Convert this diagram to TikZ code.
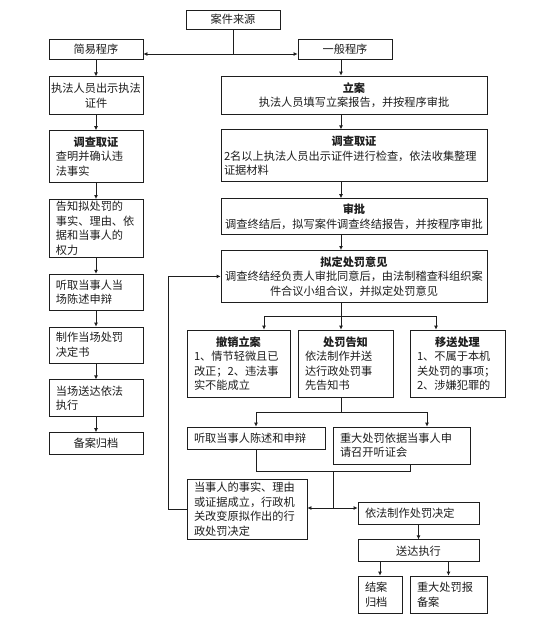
\documentclass[tikz,border=0pt]{standalone}
\usepackage{fontspec}
\setmainfont{Noto Sans CJK SC}
\usepackage{tikz}
\usetikzlibrary{arrows.meta,positioning}
\definecolor{inkgray}{HTML}{1E1E1E}
\newcommand{\ttl}[1]{\makebox[\linewidth]{\bfseries #1}}

\begin{document}
\begin{tikzpicture}[
  x=1pt, y=1pt,
  node distance=16pt,
  every node/.style={font=\fontsize{11.2}{14.5}\selectfont, text=inkgray},
  box/.style={draw=inkgray, line width=0.8pt, fill=white, inner xsep=3pt, inner ysep=1pt, align=center},
  lbox/.style={box, align=left, inner xsep=7pt},
  side/.style={box, text width=88pt},
  lside/.style={lbox, text width=80pt},
  arr/.style={-{Latex[length=4pt,width=4pt]}, line width=0.8pt, draw=inkgray},
  ln/.style={line width=0.8pt, draw=inkgray},
]
  \useasboundingbox (0,0) rectangle (536,-625);

  % source and the two procedures
  \node[box, text width=88pt, minimum height=19pt] (src) at (233,-19.5) {案件来源};
  \node[box, text width=88pt, minimum height=20pt] (jy) at (96,-49) {简易程序};
  \node[box, text width=88pt, minimum height=20pt] (yb) at (345,-49) {一般程序};

  % simple procedure
  \node[side, inner xsep=1pt, text width=92pt, minimum height=38pt, below=17pt of jy] (jy1) {执法人员出示执法\\证件};
  \node[lside, minimum height=52pt, below=15pt of jy1] (jy2) {\ttl{调查取证}\\查明并确认违\\法事实};
  \node[lside, minimum height=58pt, below=of jy2] (jy3) {告知拟处罚的\\事实、理由、依\\据和当事人的\\权力};
  \node[lside, minimum height=36pt, below=of jy3] (jy4) {听取当事人当\\场陈述申辩};
  \node[lside, minimum height=36pt, below=of jy4] (jy5) {制作当场处罚\\决定书};
  \node[lside, minimum height=37pt, below=of jy5] (jy6) {当场送达依法\\执行};
  \node[side, minimum height=22pt, below=15pt of jy6] (jy7) {备案归档};

  % general procedure
  \node[box, text width=260pt, minimum height=38pt] (la) at (354,-95) {\ttl{立案}\\执法人员填写立案报告，并按程序审批};
  \node[lbox, inner xsep=3pt, text width=260pt, minimum height=52pt, below=15pt of la] (dc) {\ttl{调查取证}\\2名以上执法人员出示证件进行检查，依法收集整理\\证据材料};
  \node[box, text width=260pt, minimum height=36pt, below=of dc] (sp) {\ttl{审批}\\调查终结后，拟写案件调查终结报告，并按程序审批};
  \node[box, inner xsep=1pt, text width=264pt, minimum height=52pt, below=15pt of sp] (nd) {\ttl{拟定处罚意见}\\调查终结经负责人审批同意后，由法制稽查科组织案\\件合议小组合议，并拟定处罚意见};

  \node[lbox, text width=89pt, minimum height=67pt] (cx) at (238.5,-363.5) {\ttl{撤销立案}\\1、情节轻微且已\\改正；2、违法事\\实不能成立};
  \node[lbox, text width=81pt, minimum height=67pt] (gz) at (345.5,-363.5) {\ttl{处罚告知}\\依法制作并送\\达行政处罚事\\先告知书};
  \node[lbox, text width=81pt, minimum height=67pt] (ys) at (457.5,-363.5) {\ttl{移送处理}\\1、不属于本机\\关处罚的事项；\\2、涉嫌犯罪的};

  \node[lbox, text width=124pt, minimum height=22pt] (tq) at (256,-438) {听取当事人陈述和申辩};
  \node[lbox, text width=123pt, minimum height=37pt] (zd) at (401.5,-445.5) {重大处罚依据当事人申\\请召开听证会};
  \node[lbox, text width=106pt, minimum height=60pt] (ds) at (247,-509) {当事人的事实、理由\\或证据成立，行政机\\关改变原拟作出的行\\政处罚决定};
  \node[lbox, text width=107pt, minimum height=22pt] (yf) at (418.5,-513) {依法制作处罚决定};
  \node[box, text width=115pt, minimum height=22pt, below=15pt of yf] (sd) {送达执行};
  \node[lbox, text width=30pt, minimum height=37pt] (ja) at (380,-594.5) {结案\\归档};
  \node[lbox, text width=63pt, minimum height=37pt] (bb) at (448.5,-594.5) {重大处罚报\\备案};

  % connectors
  \coordinate (split) at (233,-54);
  \coordinate (axis) at (341,0);
  \draw[ln] (src) -- (split);
  \draw[arr] (split) -- (split -| jy.east);
  \draw[arr] (split) -- (split -| yb.west);

  \draw[arr] (jy) -- (jy1);
  \draw[arr] (jy1) -- (jy2);
  \draw[arr] (jy2) -- (jy3);
  \draw[arr] (jy3) -- (jy4);
  \draw[arr] (jy4) -- (jy5);
  \draw[arr] (jy5) -- (jy6);
  \draw[arr] (jy6) -- (jy7);

  \draw[arr] (yb.south -| axis) -- (la.north -| axis);
  \draw[arr] (la.south -| axis) -- (dc.north -| axis);
  \draw[arr] (dc.south -| axis) -- (sp.north -| axis);
  \draw[arr] (sp.south -| axis) -- (nd.north -| axis);

  \coordinate (b1) at (341,-316);
  \coordinate (b1l) at (264,-316);
  \coordinate (b1r) at (436,-316);
  \draw[ln] (nd.south -| axis) -- (b1);
  \draw[ln] (b1l) -- (b1r);
  \draw[arr] (b1l) -- (b1l |- cx.north);
  \draw[arr] (b1) -- (b1 |- gz.north);
  \draw[arr] (b1r) -- (b1r |- ys.north);

  \coordinate (b2) at (341,-412);
  \coordinate (b2l) at (256,-412);
  \coordinate (b2r) at (427,-412);
  \draw[ln] (gz.south -| axis) -- (b2);
  \draw[ln] (b2l) -- (b2r);
  \draw[arr] (b2l) -- (tq);
  \draw[arr] (b2r) -- (b2r |- zd.north);

  \coordinate (m1l) at (256,-471);
  \coordinate (m1r) at (410,-471);
  \coordinate (m1) at (333,-471);
  \coordinate (m2) at (333,-508);
  \draw[ln] (tq) -- (m1l) -- (m1r) -- (m1r |- zd.south);
  \draw[ln] (m1) -- (m2);
  \draw[arr] (m2) -- (m2 -| ds.east);
  \draw[arr] (m2) -- (m2 -| yf.west);
  \draw[arr] (ds.west) -- ++(-18,0) |- (nd.west);

  \draw[arr] (yf) -- (sd);
  \draw[arr] (sd.south -| ja) -- (ja);
  \draw[arr] (sd.south -| bb) -- (bb);
\end{tikzpicture}
\end{document}
